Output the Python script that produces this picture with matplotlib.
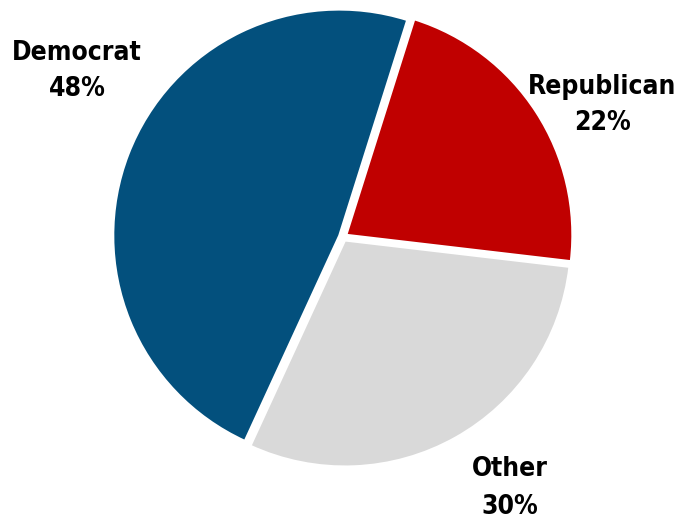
import matplotlib
matplotlib.use("Agg")
import matplotlib.pyplot as plt

# === Data ===
parties = ["Republican", "Other", "Democrat"]
shares = [22, 30, 48]
colors = ["#C00000", "#D9D9D9", "#03507D"]

# label anchor points (pixels from top-left of the image)
label_xy = {"Democrat": (77, 71), "Republican": (602, 105), "Other": (510, 488)}

fig = plt.figure(figsize=(6.75, 5.26), dpi=100)
ax = fig.add_axes([0, 0, 1, 1])

# explode is in data units (pixels here), not radius fractions
ax.pie(shares, colors=colors, startangle=72.5, counterclock=False,
       center=(343, 526 - 237), radius=226,
       explode=[4, 4, 4],
       wedgeprops=dict(edgecolor="white", linewidth=1.5))

# pie() resets the limits, so set them afterwards
ax.set_xlim(0, 675)
ax.set_ylim(0, 526)
ax.set_aspect("equal")
ax.axis("off")

for name, val in zip(parties, shares):
    x, y = label_xy[name]
    ax.text(x, 526 - y, f"{name}\n{val}%", ha="center", va="center",
            fontsize=19, fontweight="bold", fontstretch="condensed",
            family="DejaVu Sans", linespacing=1.55)

plt.savefig("out.png", dpi=100)
